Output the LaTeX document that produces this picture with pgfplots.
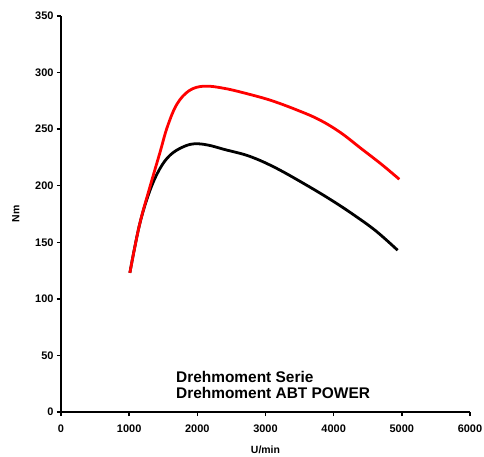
\documentclass[border=0pt]{standalone}
\usepackage{fontspec}
\setmainfont{Liberation Sans}
\usepackage{pgfplots}
\pgfplotsset{compat=1.18}
\begin{document}
\begin{tikzpicture}
\begin{axis}[
  scale only axis,
  width=409bp, height=396bp,
  xmin=0, xmax=6000, ymin=0, ymax=350,
  axis lines*=left,
  axis line style={line width=1.4pt},
  xtick={0,1000,...,6000}, ytick={0,50,...,350},
  tick style={line width=1.4pt, black},
  tick align=outside, major tick length=4bp,
  scaled x ticks=false,
  /pgf/number format/assume math mode=true,
  /pgf/number format/1000 sep={},
  ticklabel style={font=\fontsize{11}{12}\selectfont\bfseries},
  xticklabel style={yshift=-5bp},
  xlabel={U/min}, ylabel={Nm},
  label style={font=\fontsize{10.5}{12}\selectfont\bfseries},
  xlabel style={yshift=-7bp},
  ylabel style={yshift=9bp},
  legend style={at={(0.281,0.104)}, anchor=north west, draw=none, fill=none,
    inner sep=0pt, font=\fontsize{15.5}{17}\selectfont\bfseries,
    row sep=0pt, nodes={inner sep=0pt, text height=11.5bp, text depth=4.5bp}},
  legend cell align=left,
  legend image code/.code={},
  clip=false,
]
% Drehmoment Serie
\addplot[black, line width=2.8pt, smooth, tension=0.6] coordinates {
  (1010,123) (1150,165) (1300,195) (1450,215) (1600,227) (1780,234) (1950,237)
  (2150,236) (2400,232) (2767,226) (3158,215.5) (3645,199) (4000,186)
  (4300,174) (4620,160) (4938,143)
};
\addlegendentry{Drehmoment Serie}
% Drehmoment ABT POWER
\addplot[red, line width=2.8pt, smooth, tension=0.6] coordinates {
  (1010,123) (1150,165) (1300,198) (1450,229) (1560,252) (1700,272) (1880,284)
  (2100,288) (2400,286) (2750,281) (3100,275) (3500,266) (3800,258) (4100,247)
  (4400,233) (4700,219) (4963,205.7)
};
\addlegendentry{Drehmoment ABT POWER}
\end{axis}
\pgfresetboundingbox
\path (-61bp,-45bp) rectangle (423bp,412bp);
\end{tikzpicture}
\end{document}
